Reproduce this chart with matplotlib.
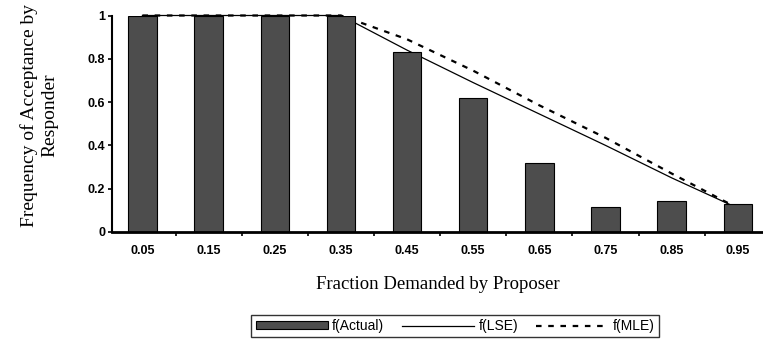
import matplotlib.pyplot as plt
import numpy as np

fractions = [0.05, 0.15, 0.25, 0.35, 0.45, 0.55, 0.65, 0.75, 0.85, 0.95]
tick_labels = ["0.05", "0.15", "0.25", "0.35", "0.45", "0.55", "0.65", "0.75", "0.85", "0.95"]
f_actual = [1.0, 1.0, 1.0, 1.0, 0.83, 0.62, 0.32, 0.115, 0.145, 0.13]
f_lse = [1.0, 1.0, 1.0, 1.0, 0.84, 0.69, 0.545, 0.40, 0.25, 0.11]
f_mle = [1.0, 1.0, 1.0, 1.0, 0.89, 0.745, 0.585, 0.435, 0.27, 0.11]

W, H = 763, 339
fig = plt.figure(figsize=(W / 100, H / 100), dpi=100)
ax = fig.add_axes([112 / W, (H - 232) / H, 1 - 112 / W, (232 - 15.5) / H])

x = np.array(fractions)
# fitted curves sit behind the bars
lse_line, = ax.plot(x, f_lse, color="black", linewidth=0.9, label="f(LSE)",
                    zorder=1, clip_on=False)
mle_line, = ax.plot(x, f_mle, color="black", linewidth=1.6,
                    linestyle=(0, (2.5, 3)), label="f(MLE)", zorder=1,
                    clip_on=False)
bars = ax.bar(x, f_actual, width=0.043, color="#4d4d4d", edgecolor="black",
              linewidth=0.8, label="f(Actual)", zorder=2)

ax.set_xlim(0.004, 0.988)
ax.set_ylim(0, 1)

serif = ["Liberation Serif", "DejaVu Serif"]
sans = ["Liberation Sans", "DejaVu Sans"]

ax.set_xticks(x)
ax.set_xticklabels(tick_labels, family=sans, fontweight="bold", fontsize=9)
ax.tick_params(axis="x", length=0, pad=9)
ax.set_xticks(np.arange(0.1, 0.95, 0.1), minor=True)
ax.tick_params(axis="x", which="minor", length=3, width=1.2, direction="out")

ax.set_yticks([0, 0.2, 0.4, 0.6, 0.8, 1.0])
ax.set_yticklabels(["0", "0.2", "0.4", "0.6", "0.8", "1"], family=sans,
                   fontweight="bold", fontsize=9)
ax.tick_params(axis="y", length=3, width=1.2, direction="out", pad=2)

for side in ("top", "right"):
    ax.spines[side].set_visible(False)
ax.spines["bottom"].set_linewidth(2)
ax.spines["left"].set_linewidth(1.5)

ax.set_xlabel("Fraction Demanded by Proposer", family=serif, fontsize=13.5,
              labelpad=14)
ax.set_ylabel("Frequency of Acceptance by\nResponder", family=serif,
              fontsize=14, linespacing=1.2)
ax.yaxis.set_label_coords(-0.083, 0.54)

leg = fig.legend([bars, lse_line, mle_line], ["f(Actual)", "f(LSE)", "f(MLE)"],
                 loc="center", bbox_to_anchor=(455 / W, 1 - 326 / H), ncol=3,
                 frameon=True, fancybox=False, edgecolor="black",
                 prop={"family": sans, "size": 10}, handlelength=5.2,
                 handleheight=0.5, handletextpad=0.3, columnspacing=1.3,
                 borderpad=0.3)
leg.get_frame().set_linewidth(1.0)

fig.savefig("out.png", dpi=100)
